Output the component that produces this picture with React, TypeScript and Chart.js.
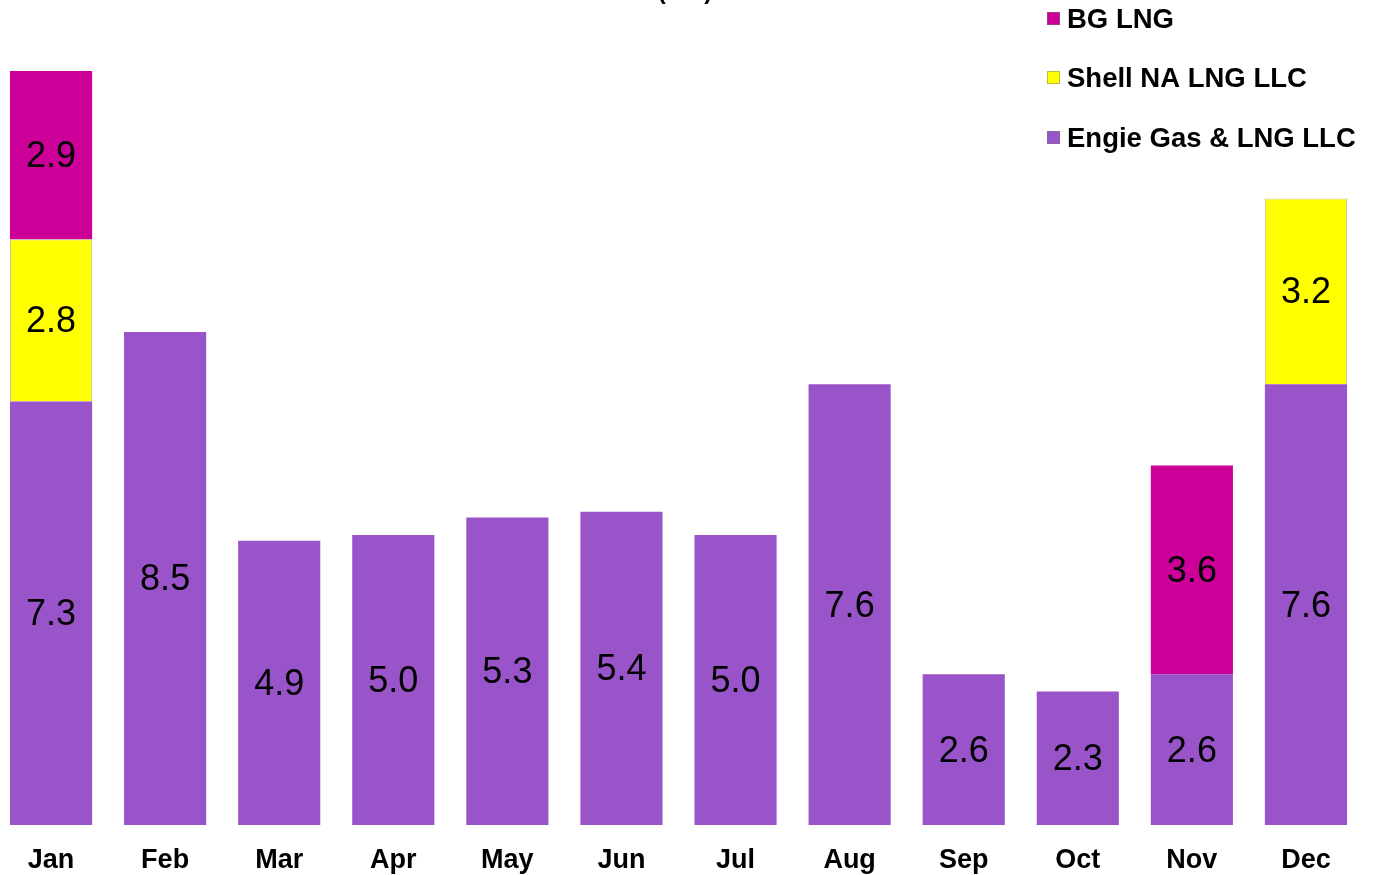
import React, { useEffect, useRef } from "react";
import { Chart, registerables } from "chart.js";

Chart.register(...registerables);

const months = ["Jan", "Feb", "Mar", "Apr", "May", "Jun", "Jul", "Aug", "Sep", "Oct", "Nov", "Dec"];
const engie = [7.3, 8.5, 4.9, 5.0, 5.3, 5.4, 5.0, 7.6, 2.6, 2.3, 2.6, 7.6];
const shell = [2.8, null, null, null, null, null, null, null, null, null, null, 3.2];
const bgLng = [2.9, null, null, null, null, null, null, null, null, null, 3.6, null];
const seriesNames = ["BG LNG", "Shell NA LNG LLC", "Engie Gas & LNG LLC"];
const chartTitle = "(Bcf)";

const PURPLE = "#9954C9";
const YELLOW = "#FFFF00";
const MAGENTA = "#CC0099";

const FONT = "'Liberation Sans', Arial, sans-serif";

const labelPlugin = {
  id: "segLabels",
  afterDatasetsDraw(chart: any) {
    const ctx = chart.ctx;
    ctx.save();
    ctx.font = `36px ${FONT}`;
    ctx.fillStyle = "#000";
    ctx.textAlign = "center";
    ctx.textBaseline = "middle";
    chart.data.datasets.forEach((ds: any, di: number) => {
      const meta = chart.getDatasetMeta(di);
      meta.data.forEach((bar: any, i: number) => {
        const v = ds.data[i];
        if (v == null) return;
        const y = (bar.y + bar.base) / 2;
        ctx.fillText(Number(v).toFixed(1), bar.x, y + 2);
      });
    });
    ctx.restore();
  },
};

const legendPlugin = {
  id: "customLegend",
  afterDraw(chart: any) {
    const ctx = chart.ctx;
    const colors = [MAGENTA, YELLOW, PURPLE];
    ctx.save();
    ctx.font = `bold 27.5px ${FONT}`;
    ctx.textAlign = "left";
    ctx.textBaseline = "middle";
    const x0 = 1053; // canvas coords (page 1047)
    const ys = [19, 78, 138];
    seriesNames.forEach((name, i) => {
      ctx.fillStyle = colors[i];
      ctx.fillRect(x0, ys[i] - 7, 13, 13);
      ctx.strokeStyle = "rgba(120,120,120,0.5)";
      ctx.lineWidth = 1;
      ctx.strokeRect(x0 + 0.5, ys[i] - 6.5, 12, 12);
      ctx.fillStyle = "#000";
      ctx.fillText(name, x0 + 20, ys[i] + 1);
    });
    // cut-off title
    ctx.font = `bold 24px ${FONT}`;
    ctx.textAlign = "center";
    ctx.textBaseline = "alphabetic";
    ctx.fillText(chartTitle, 691, -1);
    ctx.restore();
  },
};

export default function App() {
  const ref = useRef<HTMLCanvasElement>(null);
  useEffect(() => {
    document.body.style.margin = "0";
    const chart = new Chart(ref.current!, {
      type: "bar",
      data: {
        labels: months,
        datasets: [
          { label: seriesNames[2], data: engie, backgroundColor: PURPLE, borderWidth: 0 },
          { label: seriesNames[1], data: shell as any, backgroundColor: YELLOW, borderColor: "rgba(180,180,120,0.8)", borderWidth: 1 },
          { label: seriesNames[0], data: bgLng as any, backgroundColor: MAGENTA, borderWidth: 0 },
        ],
      },
      options: {
        animation: false,
        responsive: false,
        maintainAspectRatio: false,
        layout: { padding: { top: 13, left: 0, right: 0, bottom: 0 } },
        datasets: { bar: { categoryPercentage: 1, barPercentage: 0.72 } },
        plugins: {
          legend: { display: false },
          tooltip: { enabled: false },
          title: { display: false },
        },
        scales: {
          x: {
            stacked: true,
            grid: { display: false, drawTicks: false },
            border: { display: false },
            ticks: {
              color: "#000",
              font: { family: FONT, size: 27, weight: "bold" },
              padding: 19,
              maxRotation: 0,
            },
            afterFit: (s: any) => {
              s.height = 50;
            },
          },
          y: {
            stacked: true,
            display: false,
            min: 0,
            max: 14,
          },
        },
      },
      plugins: [labelPlugin, legendPlugin],
    });
    return () => chart.destroy();
  }, []);
  return (
    <div style={{ position: "absolute", left: -6, top: 0, width: 1369, height: 875 }}>
      <canvas ref={ref} width={1369} height={875} style={{ display: "block" }} />
    </div>
  );
}
